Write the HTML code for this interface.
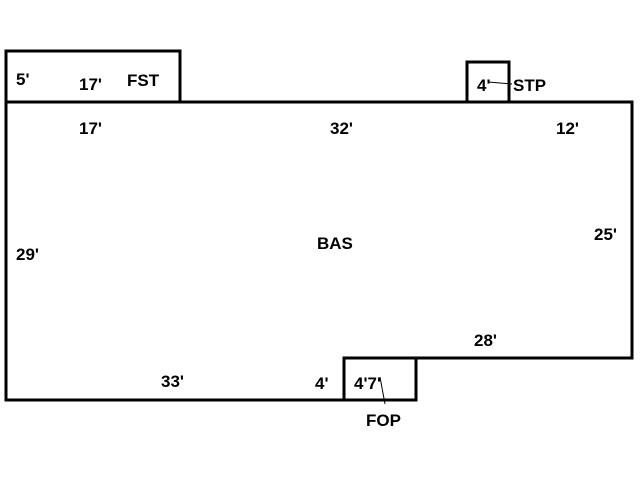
<!DOCTYPE html>
<html><head><style>body{margin:0;background:#fff}</style></head><body>
<svg width="640" height="480" xmlns="http://www.w3.org/2000/svg" style="display:block">
<g fill="none" stroke="#000" stroke-width="3">
<path d="M6,102 H632 V358 H344 V400 H6 Z"/>
<rect x="6" y="51" width="174" height="51"/>
<rect x="467" y="62" width="42" height="40"/>
<rect x="344" y="358" width="72" height="42"/>
</g>
<g stroke="#000" stroke-width="1">
<line x1="488" y1="82" x2="512" y2="84"/>
<line x1="380" y1="377" x2="385" y2="404"/>
</g>
<g font-family="Liberation Sans, sans-serif" font-weight="bold" font-size="17" fill="#000">
<text x="16" y="85">5'</text>
<text x="79" y="90">17'</text>
<text x="127" y="86">FST</text>
<text x="477" y="91">4'</text>
<text x="513" y="91">STP</text>
<text x="79" y="134">17'</text>
<text x="330" y="134">32'</text>
<text x="556" y="134">12'</text>
<text x="16" y="260">29'</text>
<text x="317" y="249">BAS</text>
<text x="594" y="240">25'</text>
<text x="474" y="346">28'</text>
<text x="161" y="387">33'</text>
<text x="315" y="389">4'</text>
<text x="354" y="389">4'7'</text>
<text x="366" y="426">FOP</text>
</g>
</svg>
</body></html>
